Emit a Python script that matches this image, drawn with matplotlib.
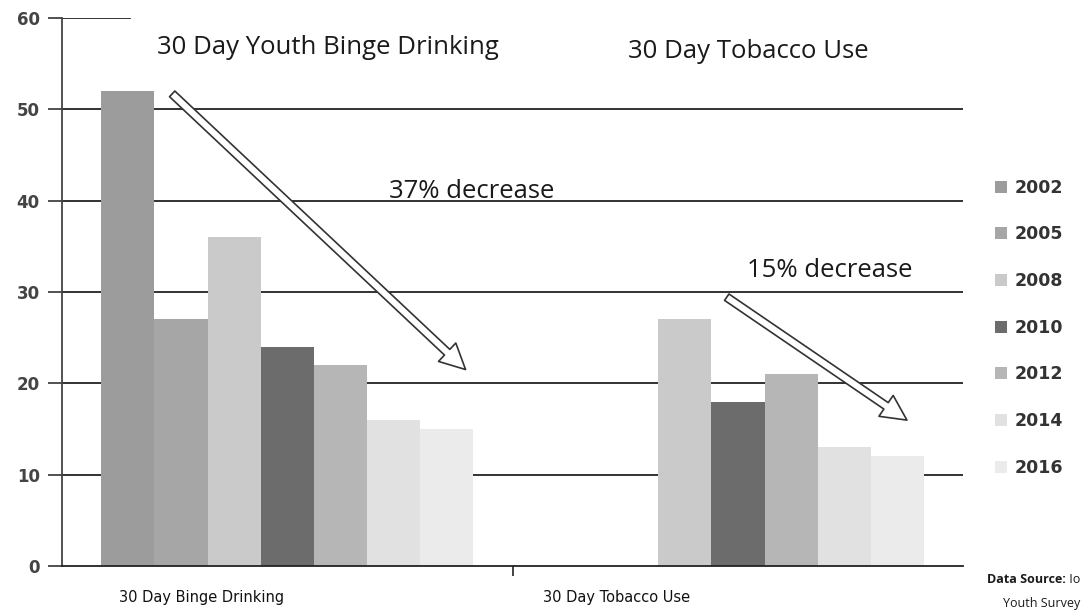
import numpy as np
import matplotlib
matplotlib.use("Agg")
import matplotlib.pyplot as plt

# values
categories = ["30 Day Binge Drinking", "30 Day Tobacco Use"]
years = ["2002", "2005", "2008", "2010", "2012", "2014", "2016"]
binge = [52, 27, 36, 24, 22, 16, 15]
tobacco = [np.nan, np.nan, 27, 18, 21, 13, 12]
colors = ["#9c9c9c", "#a6a6a6", "#cacaca", "#6c6c6c", "#b6b6b6", "#e1e1e1", "#ebebeb"]

values = np.array([binge, tobacco])  # rows = category, cols = year
yticks = [0, 10, 20, 30, 40, 50, 60]

fig = plt.figure(figsize=(10.82, 6.13), dpi=100)
ax = fig.add_axes([0.0573, 0.0767, 0.833, 0.894])

x = np.arange(len(categories))
w = 0.118
for i, yr in enumerate(years):
    ax.bar(x + (i - 3) * w, values[:, i], width=w, color=colors[i],
           label=yr, zorder=2)

# gridlines (the top one is mostly hidden behind the title box in the original)
for yv in yticks[1:-1]:
    ax.axhline(yv, color="#222222", lw=1.3, zorder=1)
ax.axhline(60, xmax=0.075, color="#222222", lw=1.3, zorder=1)

ax.set_xlim(-0.5, 1.5)
ax.set_ylim(0, 60)
ax.set_yticks(yticks)
ax.tick_params(axis="y", direction="out", length=10, width=1.2, pad=6,
               colors="#333333", labelsize=12)
for lab in ax.get_yticklabels():
    lab.set_fontweight("bold")
    lab.set_color("#444444")

# category labels sit left of the group centres in the original
ax.set_xticks([-0.19, 0.73], categories)
ax.tick_params(axis="x", length=0, pad=17, labelsize=10.5, colors="#111111")
ax.set_xticks([0.5], minor=True)
ax.tick_params(axis="x", which="minor", length=7, width=1.2, color="#222222")

for s in ["top", "right"]:
    ax.spines[s].set_visible(False)
ax.spines["left"].set_color("#444444")
ax.spines["left"].set_linewidth(1.3)
ax.spines["bottom"].set_color("#222222")
ax.spines["bottom"].set_linewidth(1.3)

txt = dict(family="Open Sans", fontsize=18.5, color="#1a1a1a")
ax.text(-0.29, 56.8, "30 Day Youth Binge Drinking", va="center", **txt)
ax.text(0.755, 56.3, "30 Day Tobacco Use", va="center", **txt)
ax.text(0.225, 41.0, "37% decrease", va="center", **txt)
ax.text(1.02, 32.3, "15% decrease", va="center", **txt)

arrow = dict(arrowstyle="simple,head_length=1.3,head_width=1.3,tail_width=0.4",
             fc="white", ec="#333333", lw=1.2, mutation_scale=14)
ax.annotate("", xy=(0.40, 21.3), xytext=(-0.26, 51.9), arrowprops=arrow, zorder=3)
ax.annotate("", xy=(1.38, 15.8), xytext=(0.97, 29.6), arrowprops=arrow, zorder=3)

leg = ax.legend(loc="upper left", bbox_to_anchor=(1.018, 0.735), frameon=False,
                handlelength=0.7, handleheight=0.7, handletextpad=0.4,
                labelspacing=1.65, prop=dict(family="DejaVu Sans", weight="bold", size=12.5))
for t in leg.get_texts():
    t.set_color("#333333")

src = dict(family="Open Sans", fontsize=9, color="#1a1a1a", va="baseline")
fig.text(0.912, 0.049, "Data Source:", fontweight="bold", **src)
fig.text(0.985, 0.049, " Io", **src)
fig.text(0.927, 0.0098, "Youth Survey", **src)

fig.savefig("out.png", dpi=100)
